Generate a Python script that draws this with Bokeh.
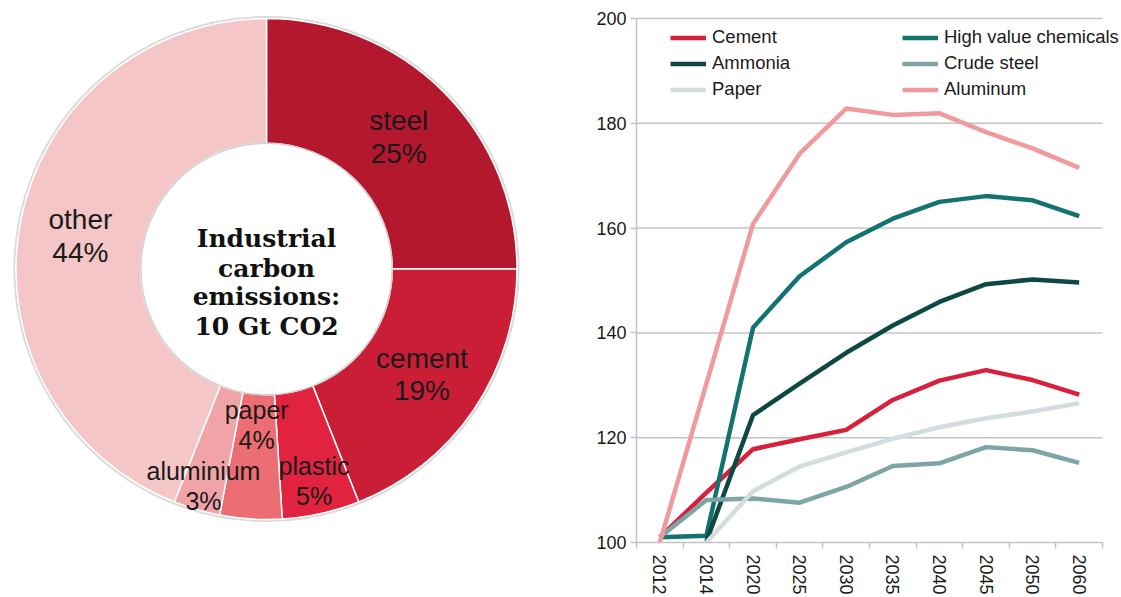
import math
from bokeh.plotting import figure
from bokeh.layouts import row
from bokeh.models import Range1d, FixedTicker, Legend, LegendItem
from bokeh.core.properties import value
from bokeh.embed import file_html
from bokeh.resources import INLINE

# ---------------- data ----------------
sectors = ["steel", "cement", "plastic", "paper", "aluminium", "other"]
shares = [25, 19, 5, 4, 3, 44]
sector_colors = ["#B3182E", "#CA1E36", "#E1233F", "#EC6D73", "#F1A4A7", "#F4C6C7"]
center_title = ["Industrial", "carbon", "emissions:", "10 Gt CO2"]

years = ["2012", "2014", "2020", "2025", "2030", "2035", "2040", "2045", "2050", "2060"]
cement = [101.0, 109.5, 117.8, 119.7, 121.5, 127.2, 130.9, 132.9, 131.0, 128.2]
high_value_chemicals = [101.0, 101.3, 141.0, 150.8, 157.3, 161.8, 165.0, 166.1, 165.3, 162.3]
ammonia = [None, 100.2, 124.3, 130.3, 136.2, 141.4, 145.9, 149.3, 150.2, 149.6]
crude_steel = [101.0, 108.1, 108.4, 107.6, 110.6, 114.6, 115.1, 118.2, 117.6, 115.2]
paper = [None, 100.0, 109.8, 114.5, 117.2, 119.8, 122.0, 123.7, 125.0, 126.6]
aluminum = [100.0, 130.3, 160.8, 174.2, 182.8, 181.6, 181.9, 178.3, 175.2, 171.5]
y_ticks = [100, 120, 140, 160, 180, 200]

SANS = "Liberation Sans"
TXT = "#1a1a1a"
GRID = "#c4c4c4"

# layout constants (pixels)
PAGE_H = 597
FRAME_BOTTOM = 543          # page y of the x axis
Y_TOP_PX = 18               # page y of the 200 gridline
CAT_W = 46.6                # width of one category
PAGE_W = 1121
P1_W = 568
FRAME_LEFT = 636

# ---------------- donut ----------------
R_OUT, R_IN = 250.5, 125.7
CY = 269                    # page y of the donut centre
p1 = figure(width=P1_W, height=PAGE_H, x_range=Range1d(-266, P1_W - 266),
            y_range=Range1d(-(FRAME_BOTTOM - CY), CY),
            toolbar_location=None, output_backend="svg",
            min_border_left=0, min_border_right=0, min_border_top=0,
            min_border_bottom=PAGE_H - FRAME_BOTTOM)
p1.axis.visible = False
p1.grid.visible = False
p1.outline_line_color = None

total = float(sum(shares))
starts, ends, mids = [], [], []
cum = 0.0
for s in shares:
    a0 = math.pi / 2 - 2 * math.pi * cum / total
    cum += s
    a1 = math.pi / 2 - 2 * math.pi * cum / total
    starts.append(a0)
    ends.append(a1)
    mids.append((a0 + a1) / 2)

p1.circle(x=0, y=0, radius=R_OUT + 1.5, fill_color=None, line_color="#d9d9d9", line_width=2)
p1.annular_wedge(x=0, y=0, inner_radius=R_IN, outer_radius=R_OUT,
                 start_angle=starts, end_angle=ends, direction="clock",
                 fill_color=sector_colors, line_color="white", line_width=1.5)
p1.circle(x=0, y=0, radius=R_IN, fill_color=None, line_color="#d0d0d0", line_width=1.5)

# label placement (layout only)
label_r = [187, 188, 218, 157, 226, 189]
label_nudge = [0, 0, 0, 0, 0, 0.8]
label_big = [True, True, False, False, False, True]
for big in (True, False):
    lx, ly, lt = [], [], []
    half = 16.5 if big else 15.0
    for name, s, m, r, nd, b in zip(sectors, shares, mids, label_r, label_nudge, label_big):
        if b != big:
            continue
        a = m + math.radians(nd)
        cx, cy = r * math.cos(a), r * math.sin(a)
        lx += [cx, cx]
        ly += [cy + half, cy - half]
        lt += [name, f"{s}%"]
    p1.text(x=lx, y=ly, text=lt, text_font=value(SANS),
            text_font_size="28px" if big else "25px",
            text_align="center", text_baseline="middle", text_color=TXT)

title_base = [31.0, 1.0, -28.0, -57.5]
p1.text(x=[0] * 4, y=title_base, text=center_title, text_font=value("DejaVu Serif"),
        text_font_style="bold", text_font_size="25px", text_align="center",
        text_baseline="alphabetic", text_color="#111111")

# ---------------- line chart ----------------
pos = list(range(1, len(years) + 1))
ppu = (FRAME_BOTTOM - Y_TOP_PX) / (y_ticks[-1] - y_ticks[0])
y_end = y_ticks[-1] + Y_TOP_PX / ppu
x_end = len(years) + 0.5 + (PAGE_W - (FRAME_LEFT + CAT_W * len(years))) / CAT_W
p2 = figure(width=PAGE_W - P1_W, height=PAGE_H, x_range=Range1d(0.5, x_end),
            y_range=Range1d(y_ticks[0], y_end),
            toolbar_location=None, output_backend="svg",
            min_border_left=FRAME_LEFT - P1_W, min_border_right=0, min_border_top=0,
            min_border_bottom=PAGE_H - FRAME_BOTTOM)
p2.outline_line_color = None
p2.grid.visible = False

# horizontal gridlines limited to the category span
p2.segment(x0=[0.5] * (len(y_ticks) - 1), x1=[len(years) + 0.5] * (len(y_ticks) - 1),
           y0=y_ticks[1:], y1=y_ticks[1:], line_color=GRID, line_width=1.5)

p2.yaxis.ticker = FixedTicker(ticks=y_ticks)
p2.yaxis.bounds = (y_ticks[0], y_ticks[-1])
p2.yaxis.axis_line_color = GRID
p2.yaxis.axis_line_width = 1.5
p2.yaxis.major_tick_line_color = GRID
p2.yaxis.major_tick_line_width = 1.5
p2.yaxis.major_tick_in = 0
p2.yaxis.major_tick_out = 6
p2.yaxis.minor_tick_line_color = None
p2.yaxis.major_label_standoff = 4
p2.yaxis.major_label_text_font = SANS
p2.yaxis.major_label_text_font_size = "18px"
p2.yaxis.major_label_text_color = TXT

p2.xaxis.ticker = FixedTicker(ticks=pos, minor_ticks=[i + 0.5 for i in range(0, len(years) + 1)])
p2.xaxis.bounds = (0.5, len(years) + 0.5)
p2.xaxis.major_label_overrides = {p: y for p, y in zip(pos, years)}
p2.xaxis.major_label_orientation = "vertical"
p2.xaxis.axis_line_color = GRID
p2.xaxis.axis_line_width = 1.5
p2.xaxis.major_tick_line_color = None
p2.xaxis.minor_tick_line_color = GRID
p2.xaxis.minor_tick_line_width = 1.5
p2.xaxis.minor_tick_in = 0
p2.xaxis.minor_tick_out = 6
p2.xaxis.major_tick_out = 6
p2.xaxis.major_tick_in = 0
p2.xaxis.major_label_standoff = 6
p2.xaxis.major_label_text_font = SANS
p2.xaxis.major_label_text_font_size = "18px"
p2.xaxis.major_label_text_color = TXT


def nz(vals):
    return [float("nan") if v is None else v for v in vals]


series = [
    ("Cement", cement, "#D7203B"),
    ("High value chemicals", high_value_chemicals, "#137370"),
    ("Ammonia", ammonia, "#0D4845"),
    ("Crude steel", crude_steel, "#7DA5A6"),
    ("Paper", paper, "#D3DCDF"),
    ("Aluminum", aluminum, "#F09A9D"),
]
rends = {}
for name, vals, col in series:
    rends[name] = p2.line(x=pos, y=nz(vals), line_color=col, line_width=4.5, line_join="round")


def make_legend(names, loc):
    return Legend(items=[LegendItem(label=n, renderers=[rends[n]]) for n in names], location=loc,
                  background_fill_alpha=0, border_line_alpha=0, padding=0, margin=0, spacing=4,
                  glyph_width=36, glyph_height=21, label_height=21, label_standoff=6,
                  label_text_font=SANS, label_text_font_size="18.5px", label_text_color=TXT)


p2.add_layout(make_legend(["Cement", "Ammonia", "Paper"], (34, 442)))
p2.add_layout(make_legend(["High value chemicals", "Crude steel", "Aluminum"], (266, 442)))

layout = row(p1, p2)
open("out.html", "w").write(file_html(layout, INLINE))
